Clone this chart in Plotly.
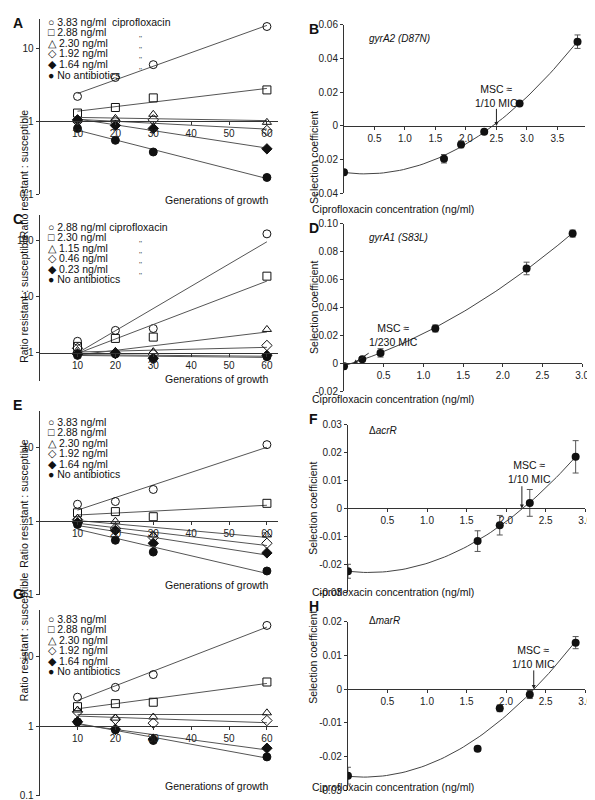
import numpy as np
import plotly.graph_objects as go

W, H = 595, 800
gens = [10, 20, 30, 60]

# ratio resistant:susceptible, panels A, C, E, G
a_labels = ["3.83 ng/ml  ciprofloxacin", "2.88 ng/ml", "2.30 ng/ml", "1.92 ng/ml", "1.64 ng/ml", "No antibiotics"]
a_vals = [[2.2, 4.0, 6.0, 20], [1.3, 1.55, 2.1, 2.7], [1.05, 1.1, 1.25, 0.97],
          [1.0, 1.0, 1.05, 0.75], [1.05, 0.88, 0.8, 0.42], [0.8, 0.55, 0.38, 0.17]]
c_labels = ["2.88 ng/ml ciprofloxacin", "2.30 ng/ml", "1.15 ng/ml", "0.46 ng/ml", "0.23 ng/ml", "No antibiotics"]
c_vals = [[1.6, 2.5, 2.7, 130], [1.3, 1.8, 1.9, 23], [1.1, 1.05, 1.05, 2.6],
          [1.2, 1.0, 0.95, 1.35], [0.95, 0.97, 0.8, 0.9], [0.9, 0.95, 0.78, 0.85]]
e_labels = ["3.83 ng/ml", "2.88 ng/ml", "2.30 ng/ml", "1.92 ng/ml", "1.64 ng/ml", "No antibiotics"]
e_vals = [[1.7, 1.85, 2.7, 11], [1.3, 1.35, 1.15, 1.75], [1.1, 1.0, 0.65, 0.65],
          [1.05, 0.8, 0.6, 0.5], [0.95, 0.75, 0.5, 0.37], [0.9, 0.55, 0.38, 0.21]]
g_labels = e_labels
g_vals = [[2.6, 3.6, 5.5, 28], [1.9, 2.1, 2.2, 4.3], [1.7, 1.3, 1.35, 1.55],
          [1.6, 1.25, 1.1, 1.2], [1.15, 0.9, 0.65, 0.48], [1.15, 0.88, 0.62, 0.36]]

# selection coefficients, panels B, D, F, H
b_x = [0, 1.64, 1.92, 2.30, 2.88, 3.83]
b_y = [-0.0275, -0.0195, -0.011, -0.0035, 0.0133, 0.050]
b_e = [0.0015, 0.0025, 0.002, 0.0008, 0.001, 0.004]
d_x = [0, 0.23, 0.46, 1.15, 2.30, 2.88]
d_y = [-0.002, 0.003, 0.0075, 0.025, 0.068, 0.093]
d_e = [0.002, 0.001, 0.003, 0.0025, 0.0045, 0.0025]
f_x = [0, 1.64, 1.92, 2.30, 2.88]
f_y = [-0.0225, -0.0117, -0.006, 0.002, 0.0185]
f_e = [0.0025, 0.0037, 0.0035, 0.0048, 0.0058]
h_x = [0, 1.64, 1.92, 2.30, 2.88]
h_y = [-0.0257, -0.0177, -0.0057, -0.0016, 0.0138]
h_e = [0.0025, 0.0007, 0.001, 0.0012, 0.0018]

symbols = ["circle-open", "square-open", "triangle-up-open", "diamond-open", "diamond", "circle"]
glyphs = ["○", "□", "△", "◇", "◆", "●"]
FONT = "Liberation Sans, Arial"
AX = "#333"

fig = go.Figure()
layout = {}
ann = []


def px(x):
    return x / W


def py(y):
    return 1 - y / H


def add_axes(i, xr, yr, xdom, ydom, ylog, yzero, xtv, xtt, ytv, ytt):
    sx = "" if i == 1 else str(i)
    bot, top = py(ydom[0]), py(ydom[1])
    ypos = bot + (yzero - yr[0]) / (yr[1] - yr[0]) * (top - bot)
    layout["xaxis" + sx] = dict(domain=[px(xdom[0]), px(xdom[1])], range=xr, anchor="free",
                                position=ypos, showgrid=False, zeroline=False, showline=True,
                                linecolor=AX, linewidth=1, ticks="outside", ticklen=3,
                                tickcolor=AX, tickvals=xtv, ticktext=xtt,
                                tickfont=dict(size=10, color="#222"))
    layout["yaxis" + sx] = dict(domain=[bot, top], range=yr,
                                type="log" if ylog else "linear", anchor="x" + sx,
                                showgrid=False, zeroline=False, showline=True, linecolor=AX,
                                linewidth=1, ticks="outside", ticklen=3, tickcolor=AX,
                                tickvals=ytv, ticktext=ytt, tickfont=dict(size=10, color="#222"))
    return "x" + sx, "y" + sx


def ratio_panel(i, letter, vals, labels, ydom, yr, ytv, ytt, top, ditto):
    xa, ya = add_axes(i, [0, 63], yr, (32, 273.5), ydom, True, 0, [10, 20, 30, 40, 50, 60],
                      ["10", "20", "30", "40", "50", "60"], ytv, ytt)
    for k, v in enumerate(vals):
        p = np.polyfit(gens, np.log10(v), 1)
        fx = np.array([10, 60])
        fig.add_trace(go.Scatter(x=fx, y=10 ** np.polyval(p, fx), mode="lines", xaxis=xa, yaxis=ya,
                                 showlegend=False, line=dict(color="#555", width=1)))
        fig.add_trace(go.Scatter(x=gens, y=v, mode="markers", xaxis=xa, yaxis=ya, showlegend=False,
                                 marker=dict(symbol=symbols[k], size=8, color="#111",
                                             line=dict(color="#111", width=1))))
        ann.append(dict(x=px(38), y=py(top + 10.7 * k), xref="paper", yref="paper", xanchor="left",
                        yanchor="middle", showarrow=False, text=glyphs[k] + " " + labels[k],
                        font=dict(size=10.5, family=FONT, color="#111")))
        if ditto and 0 < k < 5:
            ann.append(dict(x=px(131), y=py(top + 10.7 * k), xref="paper", yref="paper",
                            showarrow=False, text="''", font=dict(size=8, family=FONT, color="#444")))
    ann.append(dict(x=px(3), y=py(ydom[1] - 6), xref="paper", yref="paper", xanchor="left",
                    showarrow=False, text="<b>" + letter + "</b>", font=dict(size=14, family=FONT)))
    ann.append(dict(x=px(157), y=py(ydom[0] - 2), xref="paper", yref="paper", showarrow=False,
                    text="Generations of growth", font=dict(size=10.5, family=FONT, color="#111")))
    ann.append(dict(x=px(8), y=py((ydom[0] + ydom[1]) / 2), xref="paper", yref="paper",
                    showarrow=False, textangle=-90, text="Ratio resistant : susceptible",
                    font=dict(size=10.5, family=FONT, color="#111")))


def sel_panel(i, letter, x, y, e, xdom, ydom, xr, yr, ytv, ytt, xtv, gene, arr, txt):
    xa, ya = add_axes(i, xr, yr, xdom, ydom, False, 0, xtv, ["%.1f" % t for t in xtv], ytv, ytt)
    p = np.polyfit(x, y, 2)
    cx = np.linspace(0, max(x), 60)
    fig.add_trace(go.Scatter(x=cx, y=np.polyval(p, cx), mode="lines", xaxis=xa, yaxis=ya,
                             showlegend=False, line=dict(color="#444", width=1)))
    fig.add_trace(go.Scatter(x=x, y=y, mode="markers", xaxis=xa, yaxis=ya, showlegend=False,
                             marker=dict(symbol="circle", size=8, color="#111"),
                             error_y=dict(type="data", array=e, color="#555", thickness=1, width=3)))
    ann.append(dict(x=arr[0], y=arr[1], ax=arr[2], ay=arr[3], xref=xa, yref=ya, axref=xa, ayref=ya,
                    showarrow=True, arrowhead=2, arrowsize=0.8, arrowwidth=1, arrowcolor="#222", text=""))
    ann.append(dict(x=txt[0], y=txt[1], xref=xa, yref=ya, showarrow=False, text="MSC ≈<br>1/%s MIC" % txt[2],
                    font=dict(size=10.5, family=FONT, color="#111")))
    ann.append(dict(x=px(363), y=py(ydom[1] + 6), xref="paper", yref="paper", xanchor="left",
                    showarrow=False, text=gene, font=dict(size=10, family=FONT, color="#111")))
    ann.append(dict(x=px(303), y=py(ydom[1] - 6), xref="paper", yref="paper", xanchor="left",
                    showarrow=False, text="<b>" + letter + "</b>", font=dict(size=14, family=FONT)))
    ann.append(dict(x=px(474), y=py(min(ydom[0] + 8, 793)), xref="paper", yref="paper", showarrow=False,
                    text="Ciprofloxacin concentration (ng/ml)", font=dict(size=10.5, family=FONT, color="#111")))
    ann.append(dict(x=px(309), y=py((ydom[0] + ydom[1]) / 2), xref="paper", yref="paper",
                    showarrow=False, textangle=-90, text="Selection coefficient",
                    font=dict(size=10.5, family=FONT, color="#111")))


dec = [0.1, 1, 10, 100]
dect = ["0.1", "1", "10", "100"]
ratio_panel(1, "A", a_vals, a_labels, (183, 5.4), [-1, 1.4], dec, dect, 8, True)
ratio_panel(3, "C", c_vals, c_labels, (372.5, 204), [-0.5, 2.45], dec, dect, 216, True)
ratio_panel(5, "E", e_vals, e_labels, (589.5, 403), [-1, 1.5], dec, dect, 414, False)
ratio_panel(7, "G", g_vals, g_labels, (793.5, 605), [-1, 1.67], dec, dect, 614, False)


def lab(v):
    return ["0" if t == 0 else ("%g" % t) for t in v]


bt = [-0.04, -0.02, 0, 0.02, 0.04, 0.06]
sel_panel(2, "B", b_x, b_y, b_e, (340, 583.7), (182, 11), [0, 3.95], [-0.04, 0.06], bt, lab(bt),
          [0.5, 1.0, 1.5, 2.0, 2.5, 3.0, 3.5, 4.0], "<i>gyrA2 (D87N)</i>",
          (2.5, 0.0, 2.5, 0.011), (2.5, 0.0175, "10"))
dt = [-0.02, 0, 0.02, 0.04, 0.06, 0.08, 0.10]
sel_panel(4, "D", d_x, d_y, d_e, (340, 581), (383, 213), [0, 3.0], [-0.02, 0.10], dt,
          ["-0.02", "0", "0.02", "0.04", "0.06", "0.08", "0.10"],
          [0.5, 1.0, 1.5, 2.0, 2.5, 3.0], "<i>gyrA1 (S83L)</i>",
          (0.12, 0.0, 0.33, 0.008), (0.62, 0.0205, "230"))
ft = [-0.03, -0.02, -0.01, 0, 0.01, 0.02, 0.03]
sel_panel(6, "F", f_x, f_y, f_e, (344, 584), (587, 417), [0, 3.0], [-0.03, 0.03], ft, lab(ft),
          [0.5, 1.0, 1.5, 2.0, 2.5, 3.0], "Δ<i>acrR</i>",
          (2.2, 0.0, 2.2, 0.0085), (2.3, 0.013, "10"))
ht = [-0.03, -0.02, -0.01, 0, 0.01, 0.02]
sel_panel(8, "H", h_x, h_y, h_e, (344, 584), (788, 617), [0, 3.0], [-0.03, 0.02], ht, lab(ht),
          [0.5, 1.0, 1.5, 2.0, 2.5, 3.0], "Δ<i>marR</i>",
          (2.35, 0.0, 2.35, 0.006), (2.35, 0.0095, "10"))

fig.update_layout(width=W, height=H, margin=dict(l=0, r=0, t=0, b=0), plot_bgcolor="white",
                  paper_bgcolor="white", font=dict(family=FONT, size=10, color="#111"),
                  annotations=ann, **layout)
fig.write_html("out.html")
